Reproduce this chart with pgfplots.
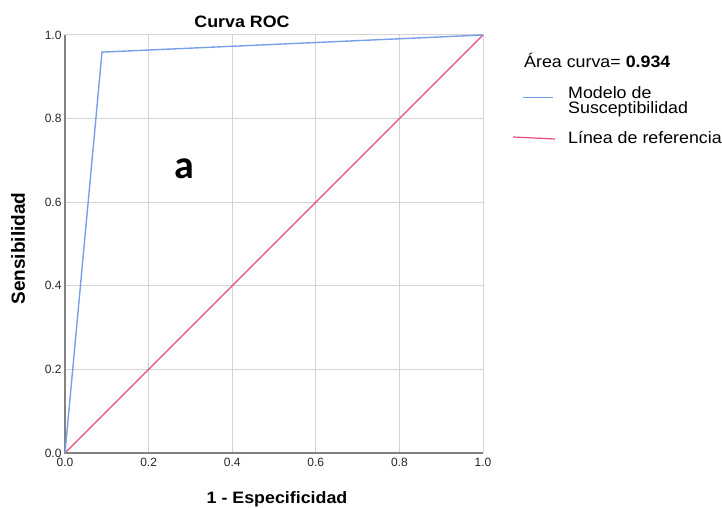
\documentclass[border=0pt]{standalone}
\usepackage{pgfplots}
\pgfplotsset{compat=1.18}
\usepackage{fontspec}
\setmainfont{Liberation Sans}
\newfontfamily\carlito{Carlito}
\definecolor{rocblue}{RGB}{118,160,232}
\definecolor{refred}{RGB}{232,76,116}
\definecolor{gridgray}{RGB}{212,212,212}
\definecolor{axgray}{RGB}{130,130,130}
\begin{document}
\begin{tikzpicture}
\path[use as bounding box] (0,0) rectangle (722pt,508pt);
\begin{axis}[
  at={(65pt,55pt)}, anchor=south west,
  width=418pt, height=418pt, scale only axis,
  xmin=0, xmax=1, ymin=0, ymax=1,
  xtick={0,0.2,0.4,0.6,0.8,1.0},
  ytick={0,0.2,0.4,0.6,0.8,1.0},
  xticklabels={0.0,0.2,0.4,0.6,0.8,1.0},
  yticklabels={0.0,0.2,0.4,0.6,0.8,1.0},
  /pgf/number format/assume math mode=true,
  tick label style={font=\fontsize{12}{14}\selectfont, text=black!85},
  major tick length=0pt,
  grid=major,
  major grid style={gridgray, line width=1pt},
  axis line style={draw=none},
  xticklabel style={yshift=-2pt},
  clip=false,
]
\draw[gridgray, line width=1pt] (axis cs:0,1) -- (axis cs:1,1) -- (axis cs:1,0);
\draw[axgray, line width=1.2pt] (axis cs:0,1) -- (axis cs:0,0) -- (axis cs:1,0);
\addplot[refred, line width=1.3pt] coordinates {(0,0) (1,1)};
\addplot[rocblue, line width=1.4pt] coordinates {(0,0) (0.0885,0.959) (1,1)};
\end{axis}
\node[anchor=base, font=\bfseries\fontsize{16.5}{19}\selectfont, xscale=1.08, inner sep=0pt] at (242pt,480.3pt) {Curva ROC};
\node[font=\bfseries\fontsize{19}{22}\selectfont, rotate=90] at (18pt,259.5pt) {Sensibilidad};
\node[anchor=base, font=\bfseries\fontsize{16.5}{19}\selectfont, xscale=1.08, inner sep=0pt] at (277pt,4.5pt) {1 - Especificidad};
\node[font=\carlito\bfseries\fontsize{40}{44}\selectfont] at (184pt,339pt) {a};
\node[anchor=base west, font=\fontsize{16.5}{19}\selectfont, xscale=1.08, inner sep=0pt] at (524pt,440pt) {Área curva= \textbf{0.934}};
\draw[rocblue, line width=1.2pt] (523pt,410.3pt) -- (553pt,410.3pt);
\node[anchor=base west, font=\fontsize{16.5}{19}\selectfont, xscale=1.08, inner sep=0pt] at (568pt,409.7pt) {Modelo de};
\node[anchor=base west, font=\fontsize{16.5}{19}\selectfont, xscale=1.08, inner sep=0pt] at (568pt,394pt) {Susceptibilidad};
\draw[refred, line width=1.2pt] (513pt,371pt) -- (555pt,369pt);
\node[anchor=base west, font=\fontsize{16.5}{19}\selectfont, xscale=1.08, inner sep=0pt] at (568pt,364pt) {Línea de referencia};
\end{tikzpicture}
\end{document}
